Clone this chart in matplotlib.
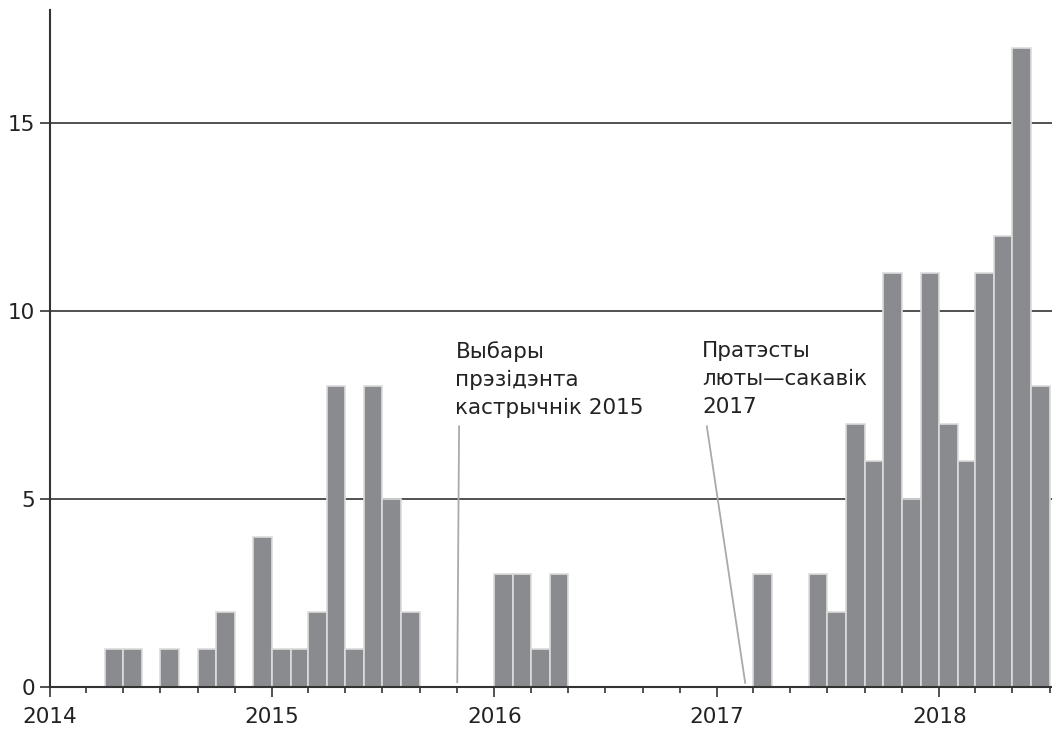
import matplotlib
matplotlib.use("Agg")
import matplotlib.pyplot as plt
import matplotlib.dates as mdates
import numpy as np
import pandas as pd

# ---- data (monthly counts, Jan 2014 – Jun 2018) ----
counts_2014 = [0, 0, 0, 1, 1, 0, 1, 0, 1, 2, 0, 4]
counts_2015 = [1, 1, 2, 8, 1, 8, 5, 2, 0, 0, 0, 0]
counts_2016 = [3, 3, 1, 3, 0, 0, 0, 0, 0, 0, 0, 0]
counts_2017 = [0, 0, 3, 0, 0, 3, 2, 7, 6, 11, 5, 11]
counts_2018 = [7, 6, 11, 12, 17, 8]
counts = counts_2014 + counts_2015 + counts_2016 + counts_2017 + counts_2018
months = pd.date_range("2014-01-01", periods=len(counts), freq="MS")

annot_election = "Выбары\nпрэзідэнта\nкастрычнік 2015"
annot_protests = "Пратэсты\nлюты\u2014сакавік\n2017"

# ---- style ----
FS = 15.5
DARK = "#333333"
BAR = "#8a8b8f"
EDGE = "#dcdcdc"
LEADER = "#aaaaaa"
plt.rcParams["font.family"] = ["DejaVu Sans"]

fig = plt.figure(figsize=(10.52, 7.30), dpi=100)
ax = fig.add_axes([50 / 1052, 43 / 730, 1 - 50 / 1052, (720 - 43) / 730])

starts = mdates.date2num(months.to_pydatetime())
ends = mdates.date2num((months + pd.offsets.MonthBegin(1)).to_pydatetime())
widths = ends - starts
ax.bar(starts, counts, width=widths, align="edge", color=BAR,
       edgecolor=EDGE, linewidth=1.2, zorder=3)

ax.set_ylim(0, 18)
ax.set_xlim(mdates.date2num(pd.Timestamp("2014-01-01")),
            mdates.date2num(pd.Timestamp("2018-07-05")))

ax.set_yticks([0, 5, 10, 15])
ax.yaxis.grid(True, color=DARK, linewidth=1.2, zorder=1)
ax.set_axisbelow(True)

ax.xaxis.set_major_locator(mdates.YearLocator())
ax.xaxis.set_major_formatter(mdates.DateFormatter("%Y"))
ax.xaxis.set_minor_locator(mdates.MonthLocator(bymonth=[3, 5, 7, 9, 11]))

for s in ["top", "right"]:
    ax.spines[s].set_visible(False)
for s in ["left", "bottom"]:
    ax.spines[s].set_color(DARK)
    ax.spines[s].set_linewidth(1.5)
    ax.spines[s].set_zorder(4)

ax.tick_params(axis="y", length=7.5, width=1.2, color=DARK, pad=3,
               labelsize=FS, labelcolor="#222222")
ax.tick_params(axis="x", which="major", length=7.5, width=1.2, color=DARK,
               pad=7, labelsize=FS, labelcolor="#222222")
ax.tick_params(axis="x", which="minor", length=4, width=1.2, color=DARK)

# ---- annotations ----
d = lambda s: mdates.date2num(pd.Timestamp(s))
ax.plot([d("2015-11-04"), d("2015-11-01")], [6.93, 0.13], color=LEADER,
        linewidth=1.3, zorder=2, clip_on=False)
ax.plot([d("2016-12-15"), d("2017-02-16")], [6.93, 0.11], color=LEADER,
        linewidth=1.3, zorder=2, clip_on=False)
ax.text(d("2015-10-29"), 9.2, annot_election, fontsize=FS, color="#222222",
        ha="left", va="top", linespacing=1.5, zorder=5)
ax.text(d("2016-12-07"), 9.2, annot_protests, fontsize=FS, color="#222222",
        ha="left", va="top", linespacing=1.5, zorder=5)

fig.savefig("out.png", dpi=100)
